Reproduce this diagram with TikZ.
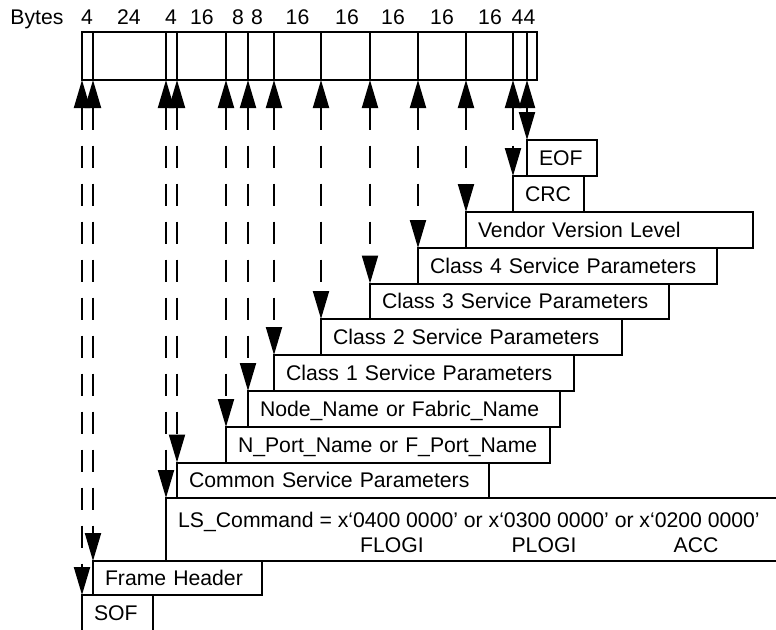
\documentclass[tikz,border=0pt]{standalone}
\usepackage{fontspec}
\setmainfont{Liberation Sans}
\usetikzlibrary{arrows.meta,positioning}
\tikzset{
  seg/.style={draw, line width=2pt, anchor=north west, inner sep=0pt, outer sep=0pt, minimum height=48pt},
  box/.style={draw, line width=2pt, anchor=north west, inner xsep=12pt, inner ysep=0pt, outer sep=0pt,
              minimum height=35.8pt, text height=15pt, text depth=0pt, align=left},
  lbl/.style={anchor=base, inner sep=0pt},
  conn/.style={line width=2pt, dash pattern=on 22pt off 16pt,
               arrows={Triangle[length=28pt,width=16pt]-Triangle[length=28pt,width=16pt]}}
}
\begin{document}
\begin{tikzpicture}[x=1pt,y=-1pt,font=\fontsize{21.2}{25}\selectfont]
\useasboundingbox (0,0) rectangle (776,629);
\clip (0,0) rectangle (776,629);
% top bar segments
\node[seg, minimum width=11pt] (s1) at (82,32) {};
\node[seg, minimum width=73pt] (s2) at (s1.north east) {};
\node[seg, minimum width=11pt] (s3) at (s2.north east) {};
\node[seg, minimum width=49pt] (s4) at (s3.north east) {};
\node[seg, minimum width=22pt] (s5) at (s4.north east) {};
\node[seg, minimum width=26pt] (s6) at (s5.north east) {};
\node[seg, minimum width=47pt] (s7) at (s6.north east) {};
\node[seg, minimum width=49pt] (s8) at (s7.north east) {};
\node[seg, minimum width=48pt] (s9) at (s8.north east) {};
\node[seg, minimum width=48pt] (s10) at (s9.north east) {};
\node[seg, minimum width=47pt] (s11) at (s10.north east) {};
\node[seg, minimum width=14pt] (s12) at (s11.north east) {};
\node[seg, minimum width=10pt] (s13) at (s12.north east) {};
% byte labels
\node[lbl] (bytes) at (37,24) {Bytes};
\node[lbl] (b1) at (87,24) {4};
\node[lbl] (b2) at (129,24) {24};
\node[lbl] (b3) at (171,24) {4};
\node[lbl] (b4) at (202,24) {16};
\node[lbl] (b5) at (238,24) {8};
\node[lbl] (b6) at (257,24) {8};
\node[lbl] (b7) at (297.5,24) {16};
\node[lbl] (b8) at (347,24) {16};
\node[lbl] (b9) at (393,24) {16};
\node[lbl] (b10) at (442,24) {16};
\node[lbl] (b11) at (490,24) {16};
\node[lbl] (b12) at (523.5,24) {44};
% staircase boxes
\node[box, text width=46pt] (eof) at (527,140) {EOF};
\node[box, text width=47pt] (crc) at (513,176) {CRC};
\node[box, text width=263pt] (vend) at (466,212) {Vendor Version Level};
\node[box, text width=275pt] (c4) at (418,248) {Class 4 Service Parameters};
\node[box, text width=275pt] (c3) at (370,283.5) {Class 3 Service Parameters};
\node[box, text width=277pt] (c2) at (321,319) {Class 2 Service Parameters};
\node[box, text width=276pt] (c1) at (274,355) {Class 1 Service Parameters};
\node[box, text width=288pt] (nn) at (248,391) {Node\_Name or Fabric\_Name};
\node[box, text width=300pt] (np) at (226,427) {N\_Port\_Name or F\_Port\_Name};
\node[box, text width=288pt] (csp) at (177,462.5) {Common Service Parameters};
\node[draw, line width=2pt, anchor=north west, inner sep=0pt, outer sep=0pt,
      minimum width=640pt, minimum height=63pt] (ls) at (166,498) {};
\node[anchor=base west, inner sep=0pt] (lstxt) at (178,527) {LS\_Command = x‘0400 0000’ or x‘0300 0000’ or x‘0200 0000’};
\node[lbl] (flogi) at (392,552) {FLOGI};
\node[lbl] (plogi) at (544,552) {PLOGI};
\node[lbl] (acc) at (696,552) {ACC};
\node[box, text width=145pt, minimum height=34pt] (fh) at (93,561) {Frame Header};
\node[box, text width=47pt] (sof) at (82,595) {SOF};
% connectors
\draw[conn] (s1.south west) -- (sof.north west);
\draw[conn] (s2.south west) -- (fh.north west);
\draw[conn] (s3.south west) -- (ls.north west);
\draw[conn] (s4.south west) -- (csp.north west);
\draw[conn] (s5.south west) -- (np.north west);
\draw[conn] (s6.south west) -- (nn.north west);
\draw[conn] (s7.south west) -- (c1.north west);
\draw[conn] (s8.south west) -- (c2.north west);
\draw[conn] (s9.south west) -- (c3.north west);
\draw[conn] (s10.south west) -- (c4.north west);
\draw[conn] (s11.south west) -- (vend.north west);
\draw[conn] (s12.south west) -- (crc.north west);
\draw[conn] (s13.south west) -- (eof.north west);
\end{tikzpicture}
\end{document}
